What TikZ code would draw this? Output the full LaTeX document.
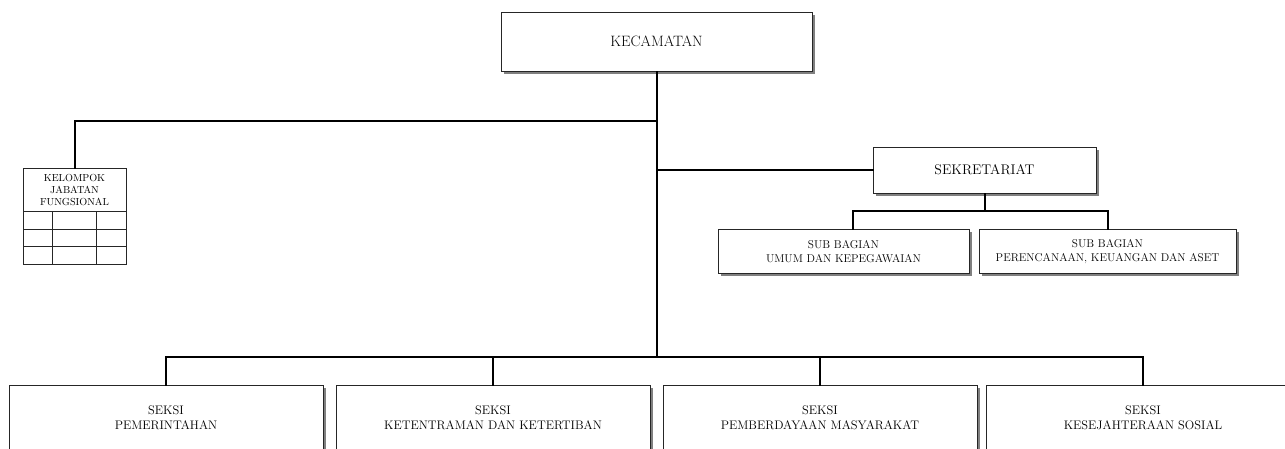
\documentclass[tikz,border=0pt]{standalone}
\usetikzlibrary{shadows, calc}

\tikzset{
  orgbox/.style={draw=black!85, line width=1pt, fill=white, align=center, inner sep=0pt,
    drop shadow={shadow xshift=2.5pt, shadow yshift=-2.5pt, fill=black!50, opacity=1}},
  subbox/.style={orgbox, minimum height=44pt, font=\fontsize{11.3}{14}\selectfont},
  seksibox/.style={orgbox, minimum width=314pt, minimum height=66pt, font=\fontsize{12.4}{15}\selectfont},
  link/.style={line width=2pt, line cap=rect},
}

\begin{document}
\begin{tikzpicture}[x=1pt, y=-1pt]
  \useasboundingbox (0,0) rectangle (1285,448);
  \clip (0,0) rectangle (1285,448);

  % Camat
  \node[orgbox, minimum width=311pt, minimum height=59pt, font=\fontsize{15}{18}\selectfont]
    (kec) at (656.5,41.5) {KECAMATAN};

  % Sekretariat and sub bagian
  \node[orgbox, minimum width=223pt, minimum height=46pt, font=\fontsize{14}{17}\selectfont]
    (sek) at (984.5,170) {SEKRETARIAT};
  \node[subbox, minimum width=251pt] (sub1) at (843.5,251.5) {SUB BAGIAN\\UMUM DAN KEPEGAWAIAN};
  \node[subbox, minimum width=257pt] (sub2) at (1107.5,251.5) {SUB BAGIAN\\PERENCANAAN, KEUANGAN DAN ASET};

  % Kelompok jabatan fungsional
  \node[draw=black!85, line width=1pt, minimum width=103pt, minimum height=43.7pt, inner sep=0pt,
    align=center, font=\fontsize{10.2}{12.2}\selectfont] (kjf) at (74.5,189.9) {KELOMPOK\\JABATAN\\FUNGSIONAL};
  \draw[line width=1pt, black!85] (23,211.7) rectangle (126,264);
  \foreach \y in {229,246.7}
    \draw[line width=1pt, black!85] (23,\y) -- (126,\y);
  \foreach \x in {52.3,96.7}
    \draw[line width=1pt, black!85] (\x,211.7) -- (\x,264);

  % Seksi
  \foreach \name/\cx/\txt in {s1/166/PEMERINTAHAN, s2/493/KETENTRAMAN DAN KETERTIBAN,
      s3/820/PEMBERDAYAAN MASYARAKAT, s4/1143/KESEJAHTERAAN SOSIAL}
    \node[seksibox] (\name) at (\cx,418) {SEKSI\\\txt};

  % Connections
  \coordinate (trunk) at (656.5,357);
  \coordinate (kjfbar) at (656.5,121);
  \coordinate (sekbar) at (984.5,211);
  \draw[link] (kec.south) -- (trunk);
  \draw[link] (s1.north) |- (trunk) -| (s4.north);
  \draw[link] (trunk -| s2.north) -- (s2.north);
  \draw[link] (trunk -| s3.north) -- (s3.north);
  \draw[link] (kjfbar) -| (kjf.north);
  \draw[link] (kec.south |- sek.west) -- (sek.west);
  \draw[link] (sek.south) -- (sekbar);
  \draw[link] ($(sub1.north)+(9.5,0)$) |- (sekbar) -| (sub2.north);
\end{tikzpicture}
\end{document}
